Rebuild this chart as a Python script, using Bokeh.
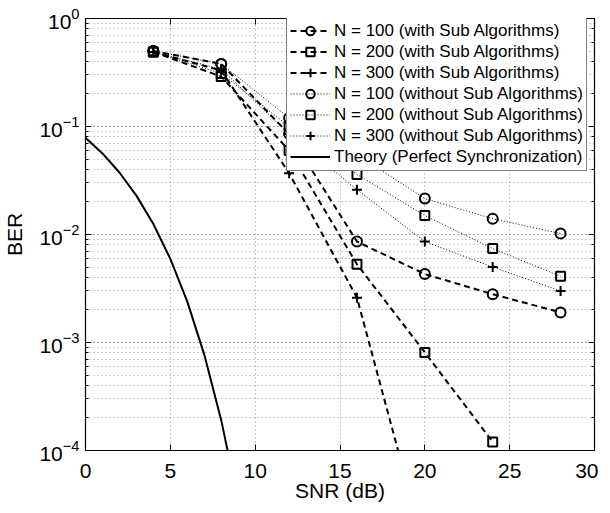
from bokeh.plotting import figure
from bokeh.models import LinearAxis, Legend, LegendItem, FixedTicker, LogTicker, Range1d, BasicTickFormatter
from bokeh.embed import file_html
from bokeh.resources import INLINE

# ---- data ----
snr = [4, 8, 12, 16, 20, 24, 28]
with_n100 = [0.50, 0.38, 0.085, 0.0086, 0.0043, 0.0028, 0.0019]
snr_w200 = [4, 8, 12, 16, 20, 24]
with_n200 = [0.49, 0.29, 0.060, 0.0053, 0.00081, 0.00012]
snr_w300 = [4, 8, 12, 16, 20]
with_n300 = [0.49, 0.33, 0.037, 0.0026, 0.000012]

wo_n100 = [0.50, 0.38, 0.12, 0.055, 0.0215, 0.014, 0.0102]
wo_n200 = [0.49, 0.31, 0.10, 0.036, 0.015, 0.0074, 0.0041]
wo_n300 = [0.49, 0.34, 0.085, 0.026, 0.0086, 0.0050, 0.0030]

snr_theory = [0, 1, 2, 3, 4, 5, 6, 7, 8, 9]
ber_theory = [0.0786, 0.0563, 0.0375, 0.0229, 0.0125, 0.00595, 0.00239, 0.000773, 0.000191, 0.0000336]

x_ticks = [0, 5, 10, 15, 20, 25, 30]
labels = ["N = 100 (with Sub Algorithms)", "N = 200 (with Sub Algorithms)",
          "N = 300 (with Sub Algorithms)", "N = 100 (without Sub Algorithms)",
          "N = 200 (without Sub Algorithms)", "N = 300 (without Sub Algorithms)",
          "Theory (Perfect Synchronization)"]

FONT = "Liberation Sans"

p = figure(frame_width=509, frame_height=432, x_range=Range1d(0, 30), y_range=Range1d(1e-4, 1),
           y_axis_type="log", output_backend="svg", toolbar_location=None,
           min_border_left=81, min_border_right=4, min_border_top=18, min_border_bottom=40,
           x_axis_label="SNR (dB)", y_axis_label="BER")
p.background_fill_color = "white"
p.outline_line_color = "black"
p.outline_line_width = 1.2

# axes styling
for ax in [p.xaxis[0], p.yaxis[0]]:
    ax.major_label_text_font = FONT
    ax.major_label_text_font_size = "21px"
    ax.major_label_text_color = "black"
    ax.axis_label_text_font = FONT
    ax.axis_label_text_font_size = "21px"
    ax.axis_label_text_font_style = "normal"
    ax.axis_label_text_color = "black"
    ax.major_tick_in = 6
    ax.major_tick_out = 0
    ax.minor_tick_in = 3
    ax.minor_tick_out = 0
    ax.axis_line_color = "black"
    ax.major_tick_line_color = "black"
    ax.minor_tick_line_color = "black"

p.xaxis[0].ticker = FixedTicker(ticks=x_ticks)
p.xaxis[0].major_label_standoff = 13
p.xaxis[0].axis_label_standoff = -2
p.yaxis[0].major_label_standoff = 6
p.yaxis[0].axis_label_standoff = 10

# top and right axes (ticks only)
top = LinearAxis(ticker=FixedTicker(ticks=x_ticks), major_label_text_font_size="1px",
                 major_label_text_color=None,
                 major_tick_in=6, major_tick_out=0, minor_tick_in=0, minor_tick_out=0,
                 axis_line_color="black", major_label_standoff=0)
right = LinearAxis(ticker=LogTicker(), formatter=BasicTickFormatter(),
                   major_label_text_font_size="1px", major_label_text_color=None,
                   major_tick_in=6, major_tick_out=0,
                   minor_tick_in=3, minor_tick_out=0, axis_line_color="black", major_label_standoff=0)
p.add_layout(top, "above")
p.add_layout(right, "right")

# grid
for g in [p.xgrid, p.ygrid]:
    g.grid_line_color = "#999999"
    g.grid_line_dash = "1 3"
    g.grid_line_width = 1
p.ygrid.minor_grid_line_color = "#999999"
p.ygrid.minor_grid_line_dash = "1 3"
p.ygrid.minor_grid_line_width = 1

items = []
DASH = "6 4"
DOT = "1 2"

def series(x, y, marker, dash, lw, size, label):
    l = p.line(x, y, line_color="black", line_width=lw, line_dash=dash)
    m = p.scatter(x, y, marker=marker, size=size, line_color="black", line_width=2, fill_alpha=0)
    items.append(LegendItem(label=label, renderers=[l, m]))

series(snr, with_n100, "circle", DASH, 2, 10, labels[0])
series(snr_w200, with_n200, "square", DASH, 2, 9, labels[1])
series(snr_w300, with_n300, "cross", DASH, 2, 10, labels[2])
series(snr, wo_n100, "circle", DOT, 1, 10, labels[3])
series(snr, wo_n200, "square", DOT, 1, 9, labels[4])
series(snr, wo_n300, "cross", DOT, 1, 10, labels[5])
lt = p.line(snr_theory, ber_theory, line_color="black", line_width=2)
items.append(LegendItem(label=labels[6], renderers=[lt]))

legend = Legend(items=items, location=(201, 279))
legend.margin = 0
legend.padding = 3
legend.spacing = 0
legend.label_height = 21
legend.glyph_height = 21
legend.glyph_width = 40
legend.label_standoff = 4
legend.label_text_font = FONT
legend.label_text_font_size = "17px"
legend.label_text_color = "black"
legend.border_line_color = "black"
legend.border_line_width = 1
legend.background_fill_color = "white"
legend.background_fill_alpha = 1
p.add_layout(legend, "center")

open("out.html", "w").write(file_html(p, INLINE))
